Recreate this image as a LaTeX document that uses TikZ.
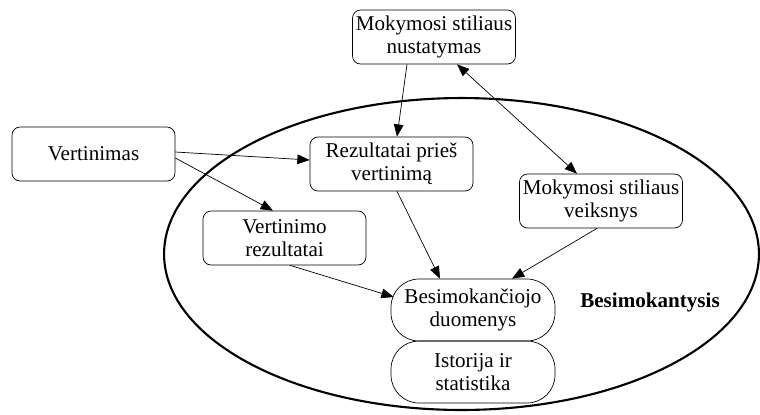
\documentclass[tikz,border=0pt]{standalone}
\usepackage{fontspec}
\setmainfont{Liberation Serif}
\usepackage{tikz}
\usetikzlibrary{arrows.meta,positioning,shapes}
\colorlet{lineC}{black}

\tikzset{
  box/.style={draw, thin, rounded corners=0.16cm, align=center, minimum width=3.26cm, minimum height=1.08cm, inner sep=1pt, font=\fontsize{12}{13.2}\selectfont},
  pill/.style={draw, thin, rounded corners=0.56cm, align=center, minimum width=3.28cm, minimum height=1.24cm, inner sep=1pt, font=\fontsize{12}{13.2}\selectfont},
  arr/.style={thin, lineC, -{Triangle[length=7pt,width=5.5pt]}},
  arrb/.style={thin, lineC, {Triangle[length=7pt,width=5.5pt]}-{Triangle[length=7pt,width=5.5pt]}}
}

\begin{document}
\begin{tikzpicture}[x=0.02cm, y=-0.02cm]
        \useasboundingbox (0,0) rectangle (760,414);
        % Outer ellipse
        \draw[lineC, line width=1.2pt] (461.5,254) ellipse [x radius=5.95cm, y radius=3.12cm];
        \node[font=\fontsize{12}{13.2}\selectfont\bfseries] (lbl) at (650,302) {Besimokantysis};
        % Boxes
        \node[box] (nust) at (434,37) {Mokymosi stiliaus\\nustatymas};
        \node[box] (rez) at (391.5,164) {Rezultatai prieš\\vertinimą};
        \node[box] (veik) at (601,201) {Mokymosi stiliaus\\veiksnys};
        \node[box] (vert) at (93.5,154) {Vertinimas};
        \node[box] (vrez) at (284.5,238) {Vertinimo\\rezultatai};
        % Learner data stack
        \node[pill] (bes) at (473,310) {Besimokančiojo\\duomenys};
        \node[pill] (ist) at (473,372) {Istorija ir\\statistika};
        % Connectors
        \draw[arr] ([xshift=-0.54cm]nust.south) -- ([xshift=0.11cm]rez.north);
        \draw[arrb] ([xshift=0.46cm]nust.south) -- ([xshift=-0.48cm]veik.north);
        \draw[arr] ([yshift=0.04cm]vert.east) -- ([yshift=0.08cm]rez.west);
        \draw[arr] ([yshift=-0.08cm]vert.east) -- ([xshift=-0.23cm]vrez.north);
        \draw[arr] ([xshift=0.11cm]vrez.south) -- ([xshift=0.06cm,yshift=0.26cm]bes.west);
        \draw[arr] ([xshift=0.11cm]rez.south) -- ([xshift=-0.66cm]bes.north);
        \draw[arr] ([xshift=-0.08cm]veik.south) -- ([xshift=0.78cm]bes.north);
      \end{tikzpicture}
\end{document}
